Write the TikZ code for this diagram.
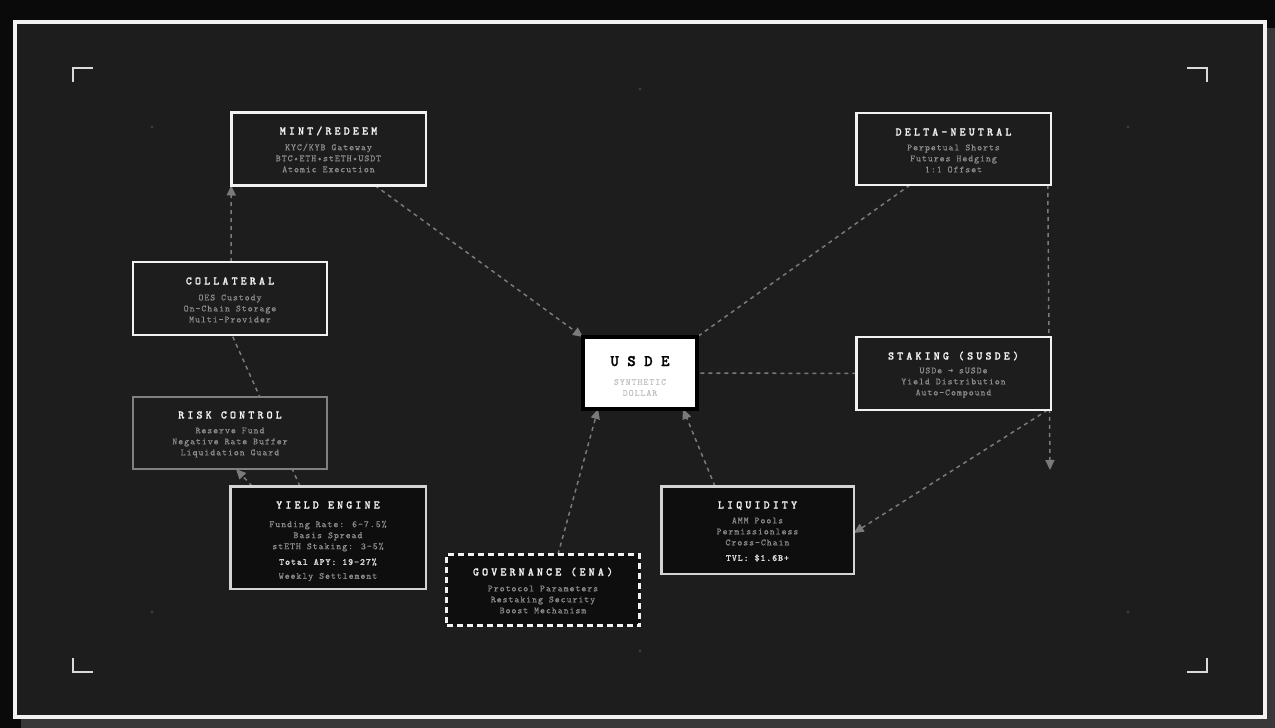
\documentclass[tikz,border=0pt]{standalone}
\usepackage{fontspec}
\usetikzlibrary{arrows.meta,calc}
\newfontfamily\ttlfont[LetterSpace=27,FakeBold=1.2]{lmmonolt10-bold.otf}
\newfontfamily\bodyfont[LetterSpace=9.6,FakeBold=0.3]{lmmono10-regular.otf}
\newfontfamily\bldfont[LetterSpace=9.6,FakeBold=1]{lmmonolt10-bold.otf}
\newfontfamily\bigfont[LetterSpace=53,FakeBold=1.5]{lmmonolt10-bold.otf}
\definecolor{outerbg}{HTML}{0A0A0A}
\definecolor{shadowc}{HTML}{383838}
\definecolor{innerbg}{HTML}{1D1D1D}
\definecolor{boxw}{HTML}{F2F2F2}
\definecolor{riskc}{HTML}{808080}
\definecolor{darkfill}{HTML}{0E0E0E}
\definecolor{lightbd}{HTML}{D4D4D4}
\definecolor{titlec}{HTML}{F0F0F0}
\definecolor{bodyc}{HTML}{8E8E8E}
\definecolor{boldc}{HTML}{D8D8D8}
\definecolor{connc}{HTML}{7A7A7A}
\definecolor{dotc}{HTML}{3C3C3C}
\definecolor{subc}{HTML}{C0C0C0}
\pgfdeclarelayer{bg}
\pgfsetlayers{bg,main}
\begin{document}
\begin{tikzpicture}[x=1pt,y=-1pt,
  sz/.style 2 args={minimum width=#1pt, minimum height=#2pt, inner sep=0pt, outer sep=0pt},
  box/.style={draw=boxw, line width=2.5pt, fill=innerbg},
  riskbox/.style={draw=riskc, line width=2.5pt, fill=innerbg},
  darkbox/.style={draw=lightbd, line width=2.5pt, fill=darkfill},
  govbox/.style={draw=boxw, line width=3pt, dash pattern=on 6pt off 4pt, fill=darkfill},
  usdebox/.style={draw=black, line width=4pt, fill=white},
  ttl/.style={font=\ttlfont\fontsize{11.5}{12}\selectfont, text=titlec, inner sep=0pt, text height=7pt, text depth=0pt},
  bdy/.style={font=\bodyfont\fontsize{9.5}{11}\selectfont, text=bodyc, align=center, inner sep=0pt},
  bld/.style={font=\bldfont\fontsize{9.5}{11}\selectfont, text=boldc, inner sep=0pt},
  conn/.style={draw=connc, line width=1.5pt, dash pattern=on 4pt off 4pt},
  arr/.style={-{Triangle[length=10pt,width=9pt]}},
  bracket/.style={draw=boxw!90!black, line width=2pt},
  gdot/.style={fill=dotc}
]
\useasboundingbox (0,0) rectangle (1275,728);
\begin{pgfonlayer}{bg}
\fill[outerbg] (0,0) rectangle (1275,728);
\fill[shadowc] (21,28) rectangle (1275,728);
\fill[innerbg] (13,20) rectangle (1267,719);
\draw[boxw, line width=4pt] (15,22) rectangle (1265,717);
\draw[bracket] (73,82) -- (73,68) -- (93,68);
\draw[bracket] (1187,68) -- (1207,68) -- (1207,82);
\draw[bracket] (73,658) -- (73,672) -- (93,672);
\draw[bracket] (1187,672) -- (1207,672) -- (1207,658);
\foreach \p in {(640,89),(152,127),(1128,127),(152,612),(1128,612),(640,651)}
  \fill[gdot] \p circle (1.6pt);
\end{pgfonlayer}

% boxes
\node[box, sz={194.5}{73}] (mint) at (328.5,149) {};
\node[ttl] (mint-t) at (328.5,131) {MINT/REDEEM};
\node[bdy] (mint-b) at (328.5,158) {KYC/KYB Gateway\\BTC•ETH•stETH•USDT\\Atomic Execution};

\node[box, sz={194.5}{72}] (delta) at (953.5,149) {};
\node[ttl] (delta-t) at (953.5,132) {DELTA-NEUTRAL};
\node[bdy] (delta-b) at (953.5,158.5) {Perpetual Shorts\\Futures Hedging\\1:1 Offset};

\node[box, sz={194}{73}] (coll) at (230,298.5) {};
\node[ttl] (coll-t) at (230,281) {COLLATERAL};
\node[bdy] (coll-b) at (230,308.5) {OES Custody\\On-Chain Storage\\Multi-Provider};

\node[riskbox, sz={194}{72}] (risk) at (230,433) {};
\node[ttl] (risk-t) at (230,415) {RISK CONTROL};
\node[bdy] (risk-b) at (230,442.5) {Reserve Fund\\Negative Rate Buffer\\Liquidation Guard};

\node[usdebox, sz={114}{72}] (usde) at (640,373) {};
\node[font=\bigfont\fontsize{16}{16}\selectfont, text=black, inner sep=0pt, text height=10pt, text depth=0pt] (usde-t) at (640,361) {USDE};
\node[bdy, text=subc] (usde-b) at (640,387.5) {SYNTHETIC\\DOLLAR};

\node[box, sz={194.5}{73}] (stak) at (953.5,373.5) {};
\node[ttl] (stak-t) at (953.5,356) {STAKING (SUSDE)};
\node[bdy] (stak-b) at (953.5,382.5) {USDe → sUSDe\\Yield Distribution\\Auto-Compound};

\node[darkbox, sz={195.5}{102.5}] (yield) at (328,537.5) {};
\node[ttl] (yield-t) at (328,505) {YIELD ENGINE};
\node[bdy] (yield-b) at (328,536) {Funding Rate: 6-7.5\%\\Basis Spread\\stETH Staking: 3-5\%};
\node[bld] (yield-apy) at (328,562) {Total APY: 19-27\%};
\node[bdy] (yield-w) at (328,577) {Weekly Settlement};

\node[govbox, sz={193}{71.5}] (gov) at (543,590) {};
\node[ttl] (gov-t) at (543,572) {GOVERNANCE (ENA)};
\node[bdy] (gov-b) at (543,599.5) {Protocol Parameters\\Restaking Security\\Boost Mechanism};

\node[darkbox, sz={192.5}{87.5}] (liq) at (757.5,530) {};
\node[ttl] (liq-t) at (757.5,505) {LIQUIDITY};
\node[bdy] (liq-b) at (757.5,531.5) {AMM Pools\\Permissionless\\Cross-Chain};
\node[bld] (liq-tvl) at (757.5,558) {TVL: \$1.6B+};

\coordinate (dn-end) at (1050,470);

% connectors
\begin{pgfonlayer}{bg}
\draw[conn, arr] ([xshift=46.5pt]mint.south) -- (usde.north west);
\draw[conn] ([xshift=-43.5pt]delta.south) -- (usde.north east);
\draw[conn] (stak.west) -- (usde.east);
\draw[conn, arr] ([xshift=-3pt]delta.south east) -- (dn-end);
\draw[conn, arr] ([xshift=-3pt]stak.south east) -- ([yshift=-3pt]liq.east);
\draw[conn, arr] ([xshift=-42.5pt]liq.north) -- ([xshift=43pt]usde.south);
\draw[conn, arr] ([xshift=15pt]gov.north) -- ([xshift=-42pt]usde.south);
\draw[conn, arr] ([xshift=1pt]coll.north) -- (mint.south west);
\draw[conn] ([xshift=-28pt]yield.north) -- ([xshift=2pt]coll.south);
\draw[conn, arr] ([xshift=22pt]yield.north west) -- ([xshift=6pt]risk.south);
\end{pgfonlayer}
\end{tikzpicture}
\end{document}
